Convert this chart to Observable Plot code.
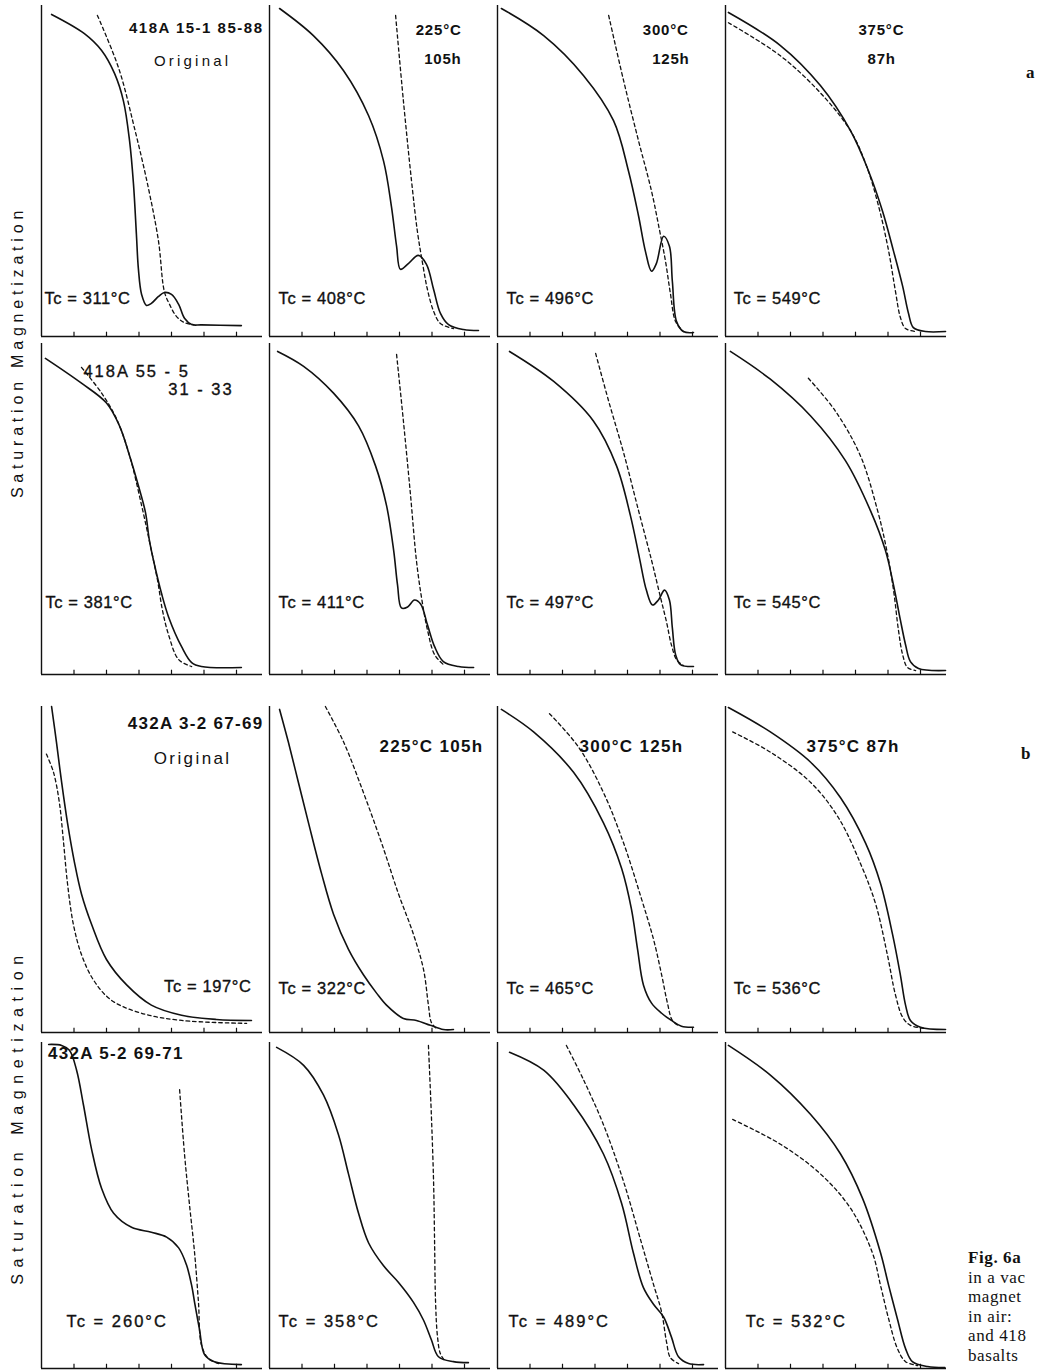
<!DOCTYPE html>
<html>
<head>
<meta charset="utf-8">
<script src="https://cdn.jsdelivr.net/npm/d3@7"></script>
<script src="https://cdn.jsdelivr.net/npm/@observablehq/plot@0.6"></script>
<style>
  body { margin: 0; background: #fff; }
  #page { position: relative; width: 1039px; height: 1371px; overflow: hidden; background: #fff;
          font-family: "Liberation Sans", Arial, sans-serif; color: #111; }
  .plot { position: absolute; left: 0; }
  .ylab { position: absolute; width: 440px; height: 20px; line-height: 20px; text-align: center;
          font-size: 16px; transform: rotate(-90deg); white-space: nowrap; }
  .part { position: absolute; font-family: "Liberation Serif", "DejaVu Serif", serif; font-weight: bold; font-size: 17px; }
  #caption { position: absolute; left: 968px; top: 1248px; font-family: "Liberation Serif", "DejaVu Serif", serif;
             font-size: 17px; line-height: 19.6px; white-space: nowrap; letter-spacing: 0.6px; }
</style>
</head>
<body>
<div id="page">
  <div id="plotA" class="plot" style="top:0"></div>
  <div id="plotB" class="plot" style="top:700px"></div>
  <div class="ylab" style="left:-202px; top:342px; letter-spacing:4.8px">Saturation Magnetization</div>
  <div class="ylab" style="left:-202px; top:1107px; letter-spacing:6.6px">Saturation Magnetization</div>
  <div class="part" style="left:1026px; top:63px">a</div>
  <div class="part" style="left:1021px; top:744px">b</div>
  <div id="caption"><b>Fig. 6a</b><br>in a vac<br>magnet<br>in air:<br>and 418<br>basalts</div>
</div>
<script>
// Thermomagnetic curves: temperature (°C) vs. relative saturation magnetization.
// Solid = heating run, dashed = cooling run. Panels numbered row by row (1–8: set a, 9–16: set b).

// --- set a, sample 418A 15-1 85-88 ---
const p1Solid = [[31,0.973],[132,0.915],[185,0.864],[225,0.794],[252,0.712],[271,0.591],[283,0.461],[292,0.309],[298,0.206],[308,0.127],[323,0.094],[338,0.100],[360,0.121],[378,0.133],[400,0.127],[422,0.097],[440,0.055],[462,0.036],[492,0.035],[615,0.033]];
const p1Dashed = [[172,0.970],[237,0.812],[286,0.630],[329,0.448],[360,0.288],[378,0.136],[394,0.097],[415,0.061],[440,0.042],[468,0.036]];
const p2Solid = [[31,0.991],[135,0.909],[228,0.803],[305,0.667],[351,0.530],[375,0.394],[391,0.273],[403,0.203],[428,0.221],[458,0.245],[483,0.218],[505,0.142],[526,0.070],[551,0.036],[597,0.021],[643,0.018]];
const p2Dashed = [[388,0.970],[412,0.712],[437,0.470],[455,0.318],[471,0.221],[486,0.142],[505,0.076],[526,0.039],[566,0.024]];
const p3Solid = [[12,0.991],[142,0.909],[265,0.788],[357,0.652],[403,0.500],[434,0.364],[455,0.258],[474,0.197],[489,0.221],[511,0.303],[529,0.273],[538,0.167],[551,0.045],[572,0.015],[603,0.012]];
const p3Dashed = [[342,0.970],[388,0.773],[434,0.591],[474,0.439],[498,0.324],[517,0.227],[532,0.130],[548,0.045],[572,0.015]];
const p4Solid = [[9,0.979],[169,0.879],[292,0.758],[385,0.621],[440,0.500],[483,0.379],[517,0.258],[545,0.152],[563,0.070],[578,0.027],[615,0.015],[677,0.015]];
const p4Dashed = [[9,0.948],[169,0.848],[292,0.736],[385,0.621],[434,0.515],[471,0.394],[502,0.258],[523,0.136],[538,0.058],[554,0.024],[585,0.015]];

// --- set a, sample 418A 55-5 31-33 ---
const p5Solid = [[12,0.955],[123,0.880],[200,0.820],[240,0.751],[271,0.661],[298,0.571],[320,0.489],[332,0.405],[348,0.330],[369,0.246],[391,0.174],[431,0.084],[462,0.036],[492,0.024],[615,0.021]];
const p5Dashed = [[123,0.928],[185,0.850],[231,0.772],[271,0.661],[308,0.511],[338,0.375],[357,0.285],[372,0.195],[391,0.120],[422,0.045],[462,0.024]];
const p6Solid = [[25,0.976],[105,0.931],[197,0.850],[274,0.751],[326,0.631],[360,0.511],[382,0.375],[394,0.270],[406,0.201],[425,0.204],[446,0.225],[465,0.213],[486,0.150],[508,0.084],[535,0.039],[582,0.024],[628,0.021]];
const p6Dashed = [[391,0.967],[412,0.766],[434,0.541],[452,0.345],[468,0.231],[486,0.135],[508,0.060],[535,0.030]];
const p7Solid = [[37,0.976],[172,0.886],[295,0.766],[366,0.631],[409,0.480],[437,0.351],[458,0.255],[477,0.210],[495,0.225],[514,0.255],[529,0.225],[538,0.141],[548,0.060],[563,0.030],[603,0.024]];
const p7Dashed = [[302,0.970],[342,0.826],[388,0.670],[434,0.495],[474,0.345],[502,0.231],[520,0.159],[535,0.090],[551,0.045],[572,0.027]];
const p8Solid = [[15,0.976],[138,0.892],[262,0.781],[369,0.646],[446,0.495],[492,0.375],[517,0.270],[538,0.165],[554,0.090],[569,0.039],[594,0.018],[677,0.012]];
const p8Dashed = [[255,0.895],[338,0.796],[415,0.661],[468,0.495],[495,0.381],[517,0.255],[532,0.135],[545,0.060],[560,0.021],[585,0.012]];

// --- set b, sample 432A 3-2 67-69 ---
const p9Solid = [[31,1.0],[46,0.891],[62,0.767],[80,0.643],[102,0.519],[123,0.425],[154,0.332],[200,0.224],[262,0.146],[338,0.084],[431,0.053],[538,0.040],[646,0.037]];
const p9Dashed = [[15,0.854],[37,0.798],[55,0.705],[68,0.581],[80,0.457],[98,0.332],[123,0.239],[160,0.161],[215,0.099],[308,0.059],[431,0.037],[631,0.028]];
const p10Solid = [[31,0.991],[58,0.891],[89,0.767],[120,0.643],[160,0.488],[197,0.363],[243,0.255],[289,0.177],[330,0.120],[360,0.084],[412,0.043],[452,0.037],[495,0.022],[535,0.009],[566,0.009]];
const p10Dashed = [[172,1.0],[228,0.891],[289,0.736],[345,0.581],[397,0.425],[443,0.301],[474,0.193],[489,0.084],[498,0.031],[514,0.012]];
const p11Solid = [[12,0.991],[111,0.922],[234,0.798],[326,0.643],[382,0.503],[412,0.379],[431,0.255],[449,0.146],[474,0.090],[505,0.059],[535,0.037],[566,0.019],[603,0.016]];
const p11Dashed = [[160,0.978],[249,0.876],[326,0.736],[388,0.581],[443,0.410],[480,0.286],[505,0.177],[523,0.090],[538,0.037],[560,0.019]];
const p12Solid = [[9,0.997],[138,0.922],[262,0.829],[354,0.720],[431,0.581],[477,0.457],[514,0.301],[538,0.177],[554,0.084],[569,0.037],[600,0.016],[677,0.009]];
const p12Dashed = [[22,0.922],[138,0.860],[262,0.767],[348,0.658],[415,0.519],[462,0.394],[498,0.239],[523,0.115],[545,0.047],[569,0.022],[615,0.012]];

// --- set b, sample 432A 5-2 69-71 ---
const p13Solid = [[22,0.994],[62,0.991],[86,0.976],[108,0.915],[129,0.809],[154,0.673],[185,0.552],[222,0.476],[277,0.433],[338,0.418],[385,0.403],[422,0.370],[446,0.318],[462,0.255],[471,0.203],[486,0.121],[502,0.042],[532,0.021],[615,0.012]];
const p13Dashed = [[425,0.855],[440,0.658],[455,0.506],[471,0.355],[483,0.203],[492,0.073],[514,0.030],[545,0.015]];
const p14Solid = [[22,0.985],[105,0.930],[166,0.839],[212,0.718],[243,0.597],[274,0.476],[305,0.385],[351,0.315],[397,0.264],[443,0.203],[474,0.148],[498,0.088],[520,0.036],[566,0.021],[612,0.018]];
const p14Dashed = [[489,0.991],[498,0.779],[505,0.567],[508,0.385],[511,0.203],[517,0.097],[526,0.045],[542,0.021]];
const p15Solid = [[37,0.970],[142,0.915],[234,0.809],[326,0.658],[382,0.506],[418,0.355],[449,0.248],[480,0.197],[511,0.158],[535,0.097],[557,0.036],[588,0.015],[634,0.012]];
const p15Dashed = [[212,0.991],[265,0.885],[326,0.748],[388,0.573],[443,0.385],[480,0.258],[505,0.173],[520,0.082],[532,0.033],[557,0.015]];
const p16Solid = [[9,0.991],[138,0.900],[262,0.779],[354,0.658],[422,0.521],[477,0.355],[502,0.255],[529,0.152],[554,0.061],[575,0.021],[622,0.006],[675,0.003]];
const p16Dashed = [[22,0.764],[169,0.688],[292,0.597],[385,0.491],[452,0.355],[477,0.255],[502,0.152],[529,0.061],[554,0.021],[591,0.009]];

// Curie temperatures written in each panel
const curieTemps = [311, 408, 496, 549, 381, 411, 497, 545, 197, 322, 465, 536, 260, 358, 489, 532];
// Temperature tick marks on each x axis (°C)
const tempTicks = [100, 200, 300, 400, 500, 600];

// Panel annotations (text anchored in temperature / relative magnetization units)
const annotations = [
  {p: 1, text: "418A 15-1 85-88", x: 683, y: 0.930, anchor: "end", style: "headA"},
  {p: 1, text: "Original", x: 465, y: 0.833, anchor: "middle", style: "noteA"},
  {p: 2, text: "225°C", x: 591, y: 0.924, anchor: "end", style: "heatA"},
  {p: 2, text: "105h", x: 591, y: 0.839, anchor: "end", style: "heatA"},
  {p: 3, text: "300°C", x: 588, y: 0.924, anchor: "end", style: "heatA"},
  {p: 3, text: "125h", x: 591, y: 0.839, anchor: "end", style: "heatA"},
  {p: 4, text: "375°C", x: 409, y: 0.924, anchor: "start", style: "heatA"},
  {p: 4, text: "87h", x: 437, y: 0.839, anchor: "start", style: "heatA"},
  {p: 5, text: "418A 55 - 5", x: 129, y: 0.916, anchor: "start", style: "noteS"},
  {p: 5, text: "31 - 33", x: 591, y: 0.860, anchor: "end", style: "noteS"},
  {p: 9, text: "432A 3-2 67-69", x: 683, y: 0.947, anchor: "end", style: "headB"},
  {p: 9, text: "Original", x: 465, y: 0.839, anchor: "middle", style: "noteB"},
  {p: 10, text: "225°C 105h", x: 658, y: 0.876, anchor: "end", style: "headB"},
  {p: 11, text: "300°C 125h", x: 572, y: 0.876, anchor: "end", style: "headB"},
  {p: 12, text: "375°C 87h", x: 249, y: 0.876, anchor: "start", style: "headB"},
  {p: 13, text: "432A 5-2 69-71", x: 20, y: 0.967, anchor: "start", style: "headB"}
];
// Where each Curie-temperature label sits
const curieLabelPos = [
  [9, 0.115, "start"], [28, 0.115, "start"], [28, 0.115, "start"], [25, 0.115, "start"],
  [12, 0.216, "start"], [28, 0.216, "start"], [28, 0.216, "start"], [25, 0.216, "start"],
  [646, 0.140, "end"], [28, 0.134, "start"], [28, 0.134, "start"], [25, 0.134, "start"],
  [77, 0.142, "start"], [28, 0.142, "start"], [34, 0.142, "start"], [62, 0.142, "start"]
];

const textStyles = {
  headA: {fontSize: 15, fontWeight: "bold", ls: 1.5},
  heatA: {fontSize: 15, fontWeight: "bold", ls: 0.8},
  noteA: {fontSize: 15, fontWeight: "normal", ls: 3.2},
  noteS: {fontSize: 16.5, fontWeight: "normal", ls: 2, heavy: true},
  headB: {fontSize: 17, fontWeight: "bold", ls: 1.3},
  noteB: {fontSize: 17, fontWeight: "normal", ls: 2.4},
  tc: {fontSize: 16.5, fontWeight: "normal", ls: 0.6, heavy: true},
  tcWide: {fontSize: 16.5, fontWeight: "normal", ls: 2, heavy: true}
};

const solidCurves = [p1Solid, p2Solid, p3Solid, p4Solid, p5Solid, p6Solid, p7Solid, p8Solid,
  p9Solid, p10Solid, p11Solid, p12Solid, p13Solid, p14Solid, p15Solid, p16Solid];
const dashedCurves = [p1Dashed, p2Dashed, p3Dashed, p4Dashed, p5Dashed, p6Dashed, p7Dashed, p8Dashed,
  p9Dashed, p10Dashed, p11Dashed, p12Dashed, p13Dashed, p14Dashed, p15Dashed, p16Dashed];

const cell = (p) => ({p, row: Math.floor((p - 1) / 4) % 2, col: (p - 1) % 4});

function curveRows(curves, kind) {
  return curves.flatMap((pts, i) => pts.map(([T, M]) => ({...cell(i + 1), kind, T, M})));
}
const allRows = [...curveRows(solidCurves, "heating"), ...curveRows(dashedCurves, "cooling")];

const allLabels = [
  ...annotations.map((d) => ({...cell(d.p), ...d})),
  ...curieTemps.map((t, i) => {
    const [x, y, anchor] = curieLabelPos[i];
    return {...cell(i + 1), text: `Tc = ${t}°C`, x, y, anchor, style: i >= 12 ? "tcWide" : "tc"};
  })
];

function drawSet(panels, fyPadding, height) {
  const inSet = (d) => panels.includes(d.p);
  const frames = panels.map(cell);
  const ticks = frames.flatMap((f) => tempTicks.map((t) => ({...f, t})));
  const rows = allRows.filter(inSet);
  const labels = allLabels.filter(inSet);
  const textMarks = d3.groups(labels, (d) => d.style + "|" + d.anchor).map(([key, items]) => {
    const s = textStyles[items[0].style];
    return Plot.text(items, {
      x: "x", y: "y", text: "text", fx: "col", fy: "row",
      textAnchor: items[0].anchor, fontSize: s.fontSize, fontWeight: s.fontWeight, fill: "#111",
      stroke: s.heavy ? "#111" : "none", strokeWidth: s.heavy ? 0.35 : 0
    });
  });
  const svg = Plot.plot({
    width: 1039,
    height,
    marginLeft: 40, marginRight: 92.5, marginTop: 5, marginBottom: 3,
    style: {background: "transparent", fontFamily: '"Liberation Sans", Arial, sans-serif', color: "#111"},
    fx: {domain: [0, 1, 2, 3], axis: null, paddingInner: 0.0328, paddingOuter: 0},
    fy: {domain: [0, 1], axis: null, paddingInner: fyPadding, paddingOuter: 0},
    x: {domain: [0, 680], axis: null},
    y: {domain: [0, 1], axis: null},
    marks: [
      Plot.ruleX(frames, {x: () => 0, fx: "col", fy: "row", stroke: "#111", strokeWidth: 1.4}),
      Plot.ruleY(frames, {y: () => 0, fx: "col", fy: "row", stroke: "#111", strokeWidth: 1.4}),
      Plot.ruleX(ticks, {x: "t", y1: () => 0, y2: () => 0.013, fx: "col", fy: "row", stroke: "#111", strokeWidth: 1.2}),
      Plot.line(rows.filter((d) => d.kind === "heating"), {
        x: "T", y: "M", z: "p", fx: "col", fy: "row", curve: "catmull-rom",
        stroke: "#111", strokeWidth: 1.6
      }),
      Plot.line(rows.filter((d) => d.kind === "cooling"), {
        x: "T", y: "M", z: "p", fx: "col", fy: "row", curve: "catmull-rom",
        stroke: "#111", strokeWidth: 1.3, strokeDasharray: "3.5,3"
      }),
      ...textMarks
    ]
  });
  // letter spacing for the panel annotations
  const spacing = new Map(labels.map((d) => [d.text, textStyles[d.style].ls]));
  d3.select(svg).selectAll("text").each(function () {
    const ls = spacing.get(this.textContent);
    if (ls) this.setAttribute("letter-spacing", ls);
  });
  return svg;
}

document.getElementById("plotA").append(drawSet([1, 2, 3, 4, 5, 6, 7, 8], 0.0207, 678));
document.getElementById("plotB").append(drawSet([9, 10, 11, 12, 13, 14, 15, 16], 0.0298, 671));
</script>
</body>
</html>
